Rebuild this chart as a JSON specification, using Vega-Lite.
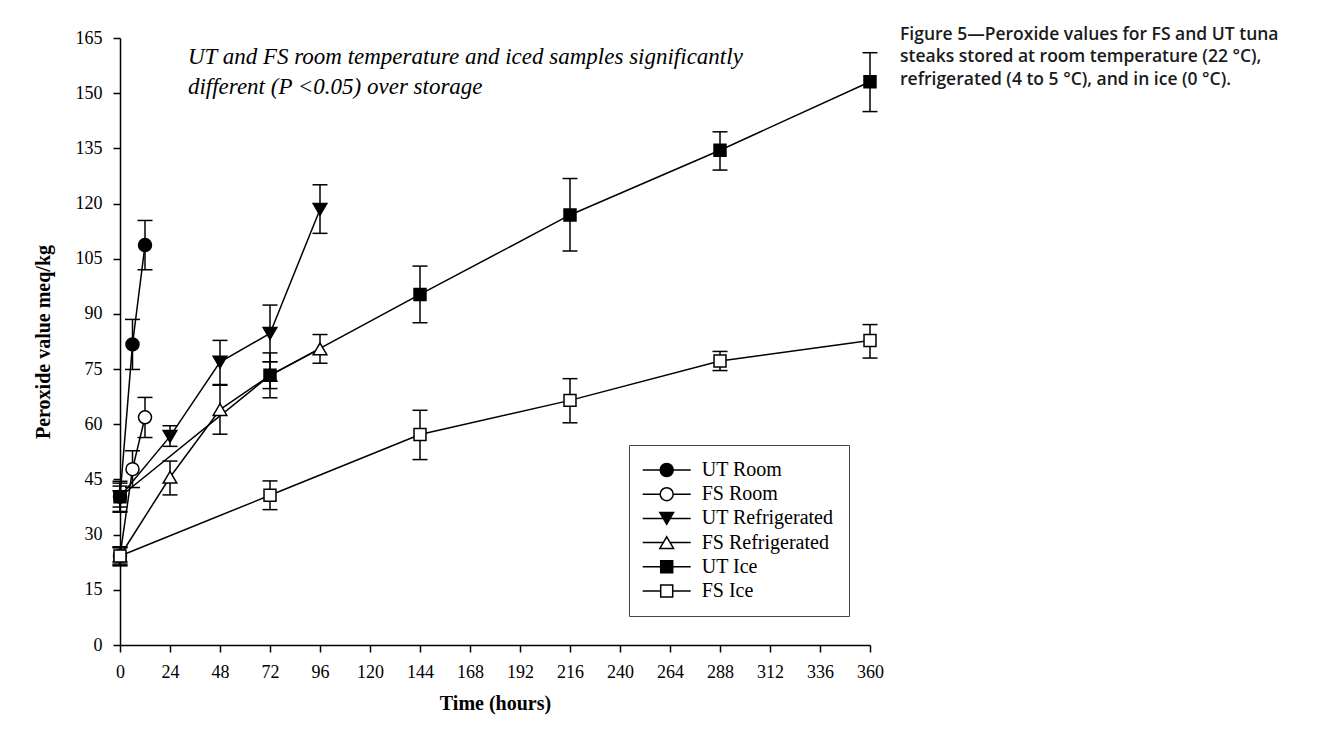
{
  "$schema": "https://vega.github.io/schema/vega-lite/v6.json",
  "width": 750,
  "height": 607,
  "autosize": {"type": "none"},
  "padding": {"left": 120, "top": 38, "right": 466, "bottom": 91},
  "background": "white",
  "config": {
    "view": {"stroke": null},
    "axis": {
      "grid": false,
      "domainColor": "black",
      "tickColor": "black",
      "labelColor": "black",
      "titleColor": "black",
      "labelFont": "Liberation Serif",
      "titleFont": "Liberation Serif",
      "labelFontSize": 18,
      "titleFontSize": 20,
      "titleFontWeight": "bold",
      "domainWidth": 1.5,
      "tickWidth": 1.5,
      "tickSize": 7,
      "labelPadding": 11,
      "labelFlush": false,
      "labelOverlap": false
    },
    "legend": {
      "title": null,
      "orient": "none",
      "legendX": 509,
      "legendY": 407,
      "padding": 15,
      "strokeColor": "#444",
      "fillColor": "white",
      "symbolSize": 100,
      "symbolStrokeWidth": 1.5,
      "symbolOffset": 12.7,
      "labelOffset": 25,
      "rowPadding": 4.2,
      "labelFont": "Liberation Serif",
      "labelFontSize": 20,
      "labelColor": "black",
      "labelLimit": 0,
      "symbolOpacity": 1
    }
  },
  "title": {
    "text": ["Figure 5—Peroxide values for FS and UT tuna", "steaks stored at room temperature (22 °C),", "refrigerated (4 to 5 °C), and in ice (0 °C)."],
    "anchor": "start",
    "frame": "group",
    "orient": "top",
    "offset": 0,
    "dx": 780,
    "dy": 59,
    "baseline": "top",
    "align": "left",
    "font": "Open Sans",
    "fontSize": 17.5,
    "fontWeight": 600,
    "color": "#1a1a1a",
    "lineHeight": 22.5
  },
  "datasets": {
    "pts": [
      {"series": "UT Room", "t": 0, "v": 40.3, "lo": 36.1, "hi": 44.5},
      {"series": "UT Room", "t": 6, "v": 81.7, "lo": 74.9, "hi": 88.5},
      {"series": "UT Room", "t": 12, "v": 108.7, "lo": 102.0, "hi": 115.4},
      {"series": "FS Room", "t": 0, "v": 24.2, "lo": 21.7, "hi": 26.7},
      {"series": "FS Room", "t": 6, "v": 47.8, "lo": 42.8, "hi": 52.8},
      {"series": "FS Room", "t": 12, "v": 61.9, "lo": 56.4, "hi": 67.3},
      {"series": "UT Refrigerated", "t": 0, "v": 40.3, "lo": 37.5, "hi": 43.2},
      {"series": "UT Refrigerated", "t": 24, "v": 56.7, "lo": 54.0, "hi": 59.6},
      {"series": "UT Refrigerated", "t": 48, "v": 76.9, "lo": 70.6, "hi": 82.8},
      {"series": "UT Refrigerated", "t": 72, "v": 84.7, "lo": 77.0, "hi": 92.4},
      {"series": "UT Refrigerated", "t": 96, "v": 118.4, "lo": 111.9, "hi": 125.1},
      {"series": "FS Refrigerated", "t": 0, "v": 24.2, "lo": 22.0, "hi": 26.4},
      {"series": "FS Refrigerated", "t": 24, "v": 45.6, "lo": 40.8, "hi": 50.0},
      {"series": "FS Refrigerated", "t": 48, "v": 64.0, "lo": 57.3, "hi": 70.8},
      {"series": "FS Refrigerated", "t": 72, "v": 73.3, "lo": 69.7, "hi": 77.0},
      {"series": "FS Refrigerated", "t": 96, "v": 80.5, "lo": 76.6, "hi": 84.4},
      {"series": "UT Ice", "t": 0, "v": 40.3, "lo": 36.3, "hi": 44.0},
      {"series": "UT Ice", "t": 72, "v": 73.3, "lo": 67.2, "hi": 79.4},
      {"series": "UT Ice", "t": 144, "v": 95.3, "lo": 87.6, "hi": 103.0},
      {"series": "UT Ice", "t": 216, "v": 116.9, "lo": 107.1, "hi": 126.8},
      {"series": "UT Ice", "t": 288, "v": 134.5, "lo": 129.1, "hi": 139.5},
      {"series": "UT Ice", "t": 360, "v": 153.1, "lo": 145.0, "hi": 161.0},
      {"series": "FS Ice", "t": 0, "v": 24.2, "lo": 21.5, "hi": 26.6},
      {"series": "FS Ice", "t": 72, "v": 40.7, "lo": 36.8, "hi": 44.6},
      {"series": "FS Ice", "t": 144, "v": 57.2, "lo": 50.4, "hi": 63.8},
      {"series": "FS Ice", "t": 216, "v": 66.5, "lo": 60.4, "hi": 72.4},
      {"series": "FS Ice", "t": 288, "v": 77.2, "lo": 74.6, "hi": 79.8},
      {"series": "FS Ice", "t": 360, "v": 82.8, "lo": 78.0, "hi": 87.1}
    ],
    "note": [
      {"t": 32.6, "v": 158, "note": "UT and FS room temperature and iced samples significantly\ndifferent (P <0.05) over storage"}
    ]
  },
  "encoding": {
    "x": {
      "field": "t",
      "type": "quantitative",
      "scale": {"domain": [0, 360], "nice": false},
      "axis": {
        "values": [0, 24, 48, 72, 96, 120, 144, 168, 192, 216, 240, 264, 288, 312, 336, 360],
        "title": "Time (hours)",
        "titlePadding": 12
      }
    }
  },
  "resolve": {
    "scale": {"shape": "independent", "fill": "independent", "stroke": "independent"},
    "legend": {"shape": "independent", "fill": "independent", "stroke": "independent"}
  },
  "layer": [
    {
      "data": {"name": "pts"},
      "mark": {"type": "line", "stroke": "black", "strokeWidth": 1.5},
      "encoding": {
        "y": {
          "field": "v",
          "type": "quantitative",
          "scale": {"domain": [0, 165], "nice": false},
          "axis": {"values": [0, 15, 30, 45, 60, 75, 90, 105, 120, 135, 150, 165], "title": "Peroxide value meq/kg", "titlePadding": 22}
        },
        "detail": {"field": "series", "type": "nominal"}
      }
    },
    {
      "data": {"name": "pts"},
      "mark": {"type": "rule", "stroke": "black", "strokeWidth": 1.5},
      "encoding": {
        "y": {"field": "lo", "type": "quantitative", "axis": {"values": [0, 15, 30, 45, 60, 75, 90, 105, 120, 135, 150, 165], "title": "Peroxide value meq/kg", "titlePadding": 22}},
        "y2": {"field": "hi"}
      }
    },
    {
      "data": {"name": "pts"},
      "mark": {"type": "tick", "orient": "horizontal", "size": 15, "thickness": 1.5, "color": "black", "opacity": 1},
      "encoding": {
        "y": {"field": "lo", "type": "quantitative", "axis": {"values": [0, 15, 30, 45, 60, 75, 90, 105, 120, 135, 150, 165], "title": "Peroxide value meq/kg", "titlePadding": 22}}
      }
    },
    {
      "data": {"name": "pts"},
      "mark": {"type": "tick", "orient": "horizontal", "size": 15, "thickness": 1.5, "color": "black", "opacity": 1},
      "encoding": {
        "y": {"field": "hi", "type": "quantitative", "axis": {"values": [0, 15, 30, 45, 60, 75, 90, 105, 120, 135, 150, 165], "title": "Peroxide value meq/kg", "titlePadding": 22}}
      }
    },
    {
      "data": {"name": "pts"},
      "mark": {"type": "point", "filled": true, "size": 169, "stroke": "black", "strokeWidth": 1.5, "opacity": 1},
      "encoding": {
        "y": {"field": "v", "type": "quantitative", "axis": {"values": [0, 15, 30, 45, 60, 75, 90, 105, 120, 135, 150, 165], "title": "Peroxide value meq/kg", "titlePadding": 22}},
        "shape": {
          "field": "series",
          "type": "nominal",
          "scale": {
            "domain": ["UT Room", "FS Room", "UT Refrigerated", "FS Refrigerated", "UT Ice", "FS Ice"],
            "range": [
              "M-1,0A1,1 0 1,1 1,0A1,1 0 1,1 -1,0Z",
              "M-1,0A1,1 0 1,1 1,0A1,1 0 1,1 -1,0Z",
              "M-1.05,-0.9L1.05,-0.9L0,0.9Z",
              "M-1.05,0.9L1.05,0.9L0,-0.9Z",
              "M-0.92,-0.92H0.92V0.92H-0.92Z",
              "M-0.92,-0.92H0.92V0.92H-0.92Z"
            ]
          },
          "legend": null
        },
        "fill": {
          "field": "series",
          "type": "nominal",
          "scale": {
            "domain": ["UT Room", "FS Room", "UT Refrigerated", "FS Refrigerated", "UT Ice", "FS Ice"],
            "range": ["black", "white", "black", "white", "black", "white"]
          },
          "legend": null
        }
      }
    },
    {
      "data": {"name": "pts"},
      "mark": {"type": "point", "filled": true, "size": 100, "opacity": 0, "strokeWidth": 1.5},
      "encoding": {
        "y": {"field": "v", "type": "quantitative", "axis": {"values": [0, 15, 30, 45, 60, 75, 90, 105, 120, 135, 150, 165], "title": "Peroxide value meq/kg", "titlePadding": 22}},
        "shape": {
          "field": "series",
          "type": "nominal",
          "scale": {
            "domain": ["UT Room", "FS Room", "UT Refrigerated", "FS Refrigerated", "UT Ice", "FS Ice"],
            "range": [
              "M-4.8,0H-1.3M1.3,0H4.8M-1.3,0A1.3,1.3 0 1,1 1.3,0A1.3,1.3 0 1,1 -1.3,0Z",
              "M-4.8,0H-1.3M1.3,0H4.8M-1.3,0A1.3,1.3 0 1,1 1.3,0A1.3,1.3 0 1,1 -1.3,0Z",
              "M-4.8,0H-0.68M0.68,0H4.8M-1.37,-1.17L1.37,-1.17L0,1.17Z",
              "M-4.8,0H-0.68M0.68,0H4.8M-1.37,1.17L1.37,1.17L0,-1.17Z",
              "M-4.8,0H-1.2M1.2,0H4.8M-1.2,-1.2H1.2V1.2H-1.2Z",
              "M-4.8,0H-1.2M1.2,0H4.8M-1.2,-1.2H1.2V1.2H-1.2Z"
            ]
          },
          "legend": {}
        },
        "fill": {
          "field": "series",
          "type": "nominal",
          "scale": {
            "domain": ["UT Room", "FS Room", "UT Refrigerated", "FS Refrigerated", "UT Ice", "FS Ice"],
            "range": ["black", "white", "black", "white", "black", "white"]
          },
          "legend": {}
        },
        "stroke": {
          "field": "series",
          "type": "nominal",
          "scale": {
            "domain": ["UT Room", "FS Room", "UT Refrigerated", "FS Refrigerated", "UT Ice", "FS Ice"],
            "range": ["black", "black", "black", "black", "black", "black"]
          },
          "legend": {}
        }
      }
    },
    {
      "data": {"name": "note"},
      "mark": {"type": "text", "align": "left", "baseline": "alphabetic", "font": "Liberation Serif", "fontStyle": "italic", "fontSize": 23, "lineHeight": 30, "lineBreak": "\n", "color": "black"},
      "encoding": {
        "y": {"field": "v", "type": "quantitative", "axis": {"values": [0, 15, 30, 45, 60, 75, 90, 105, 120, 135, 150, 165], "title": "Peroxide value meq/kg", "titlePadding": 22}},
        "text": {"field": "note", "type": "nominal"}
      }
    }
  ]
}
